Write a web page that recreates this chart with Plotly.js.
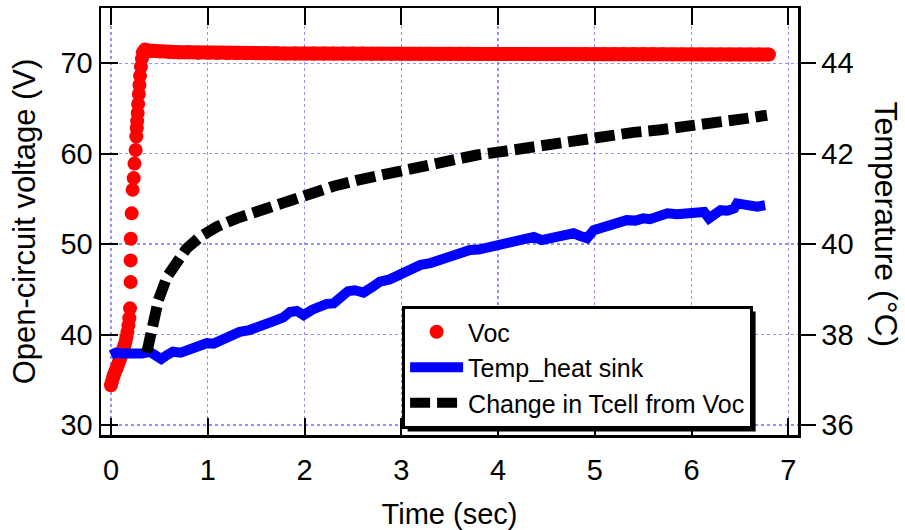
<!DOCTYPE html>
<html>
<head>
<meta charset="utf-8">
<script src="https://cdn.plot.ly/plotly-3.0.1.min.js"></script>
<style>html,body{margin:0;padding:0;background:#fff;}#chart{width:905px;height:530px;}</style>
</head>
<body>
<div id="chart"></div>
<script>
// Voc (left axis, V)
const vocTime = [0,0.01,0.02,0.03,0.04,0.05,0.06,0.07,0.08,0.09,0.10,0.11,0.12,0.13,0.14,0.15,0.16,0.17,0.18,0.19,0.197,
  0.203,0.203,0.205,0.214,0.224,0.235,0.243,0.255,0.262,0.267,0.271,0.276,0.281,0.288,0.294,0.30,0.31,0.32,0.33,0.35,0.37,
  0.4,0.5,0.6,0.7,0.8,0.9,1.0,1.1,1.2,1.3,1.4,1.5,1.6,1.7,1.8,1.9,2.0,2.1,2.2,2.3,2.4,2.5,2.6,2.7,2.8,2.9,3.0,
  3.1,3.2,3.3,3.4,3.5,3.6,3.7,3.8,3.9,4.0,4.1,4.2,4.3,4.4,4.5,4.6,4.7,4.8,4.9,5.0,5.1,5.2,5.3,5.4,5.5,5.6,5.7,5.8,5.9,6.0,
  6.1,6.2,6.3,6.4,6.5,6.6,6.7,6.8];
const vocValue = [34.4,34.8,35.2,35.5,35.8,36.1,36.3,36.6,36.9,37.2,37.5,37.9,38.2,38.5,38.8,39.2,39.7,40.3,41.0,41.8,42.9,
  45.8,48.2,50.6,53.4,56.0,57.3,58.9,60.4,61.9,62.8,63.6,64.5,65.5,66.6,67.6,68.6,69.6,70.5,71.2,71.5,71.4,
  71.35,71.3,71.25,71.2,71.2,71.15,71.15,71.12,71.12,71.1,71.1,71.1,71.1,71.1,71.08,71.08,71.08,71.07,71.07,71.07,71.06,71.06,71.06,71.05,71.05,71.05,71.05,
  71.04,71.04,71.04,71.03,71.03,71.03,71.03,71.02,71.02,71.02,71.01,71.01,71.01,71.0,71.0,71.0,71.0,71.0,70.99,70.99,70.99,70.99,70.98,70.98,70.98,70.98,70.98,70.97,70.97,70.97,
  70.97,70.97,70.97,70.96,70.96,70.96,70.96,70.96];

// Temp_heat sink (right axis, degC)
const sinkTime = [0.00,0.05,0.12,0.23,0.32,0.40,0.46,0.52,0.58,0.64,0.72,0.82,0.90,0.99,1.06,1.13,1.22,1.33,1.43,1.54,1.62,1.71,1.78,1.85,1.92,1.99,
  2.08,2.16,2.23,2.30,2.38,2.45,2.52,2.61,2.70,2.78,2.88,2.99,3.10,3.20,3.30,3.40,3.50,3.58,3.65,3.71,3.80,3.92,4.02,4.13,4.25,4.37,4.45,4.56,4.64,
  4.70,4.78,4.85,4.92,4.99,5.08,5.16,5.25,5.33,5.42,5.50,5.57,5.64,5.75,5.85,5.95,6.05,6.13,6.18,6.24,6.30,6.37,6.44,6.47,6.54,6.61,6.68,6.76];
const sinkTemp = [37.55,37.60,37.58,37.55,37.58,37.62,37.55,37.46,37.55,37.62,37.60,37.69,37.72,37.81,37.80,37.88,37.96,38.06,38.10,38.21,38.24,38.32,38.38,38.50,38.52,38.43,
  38.55,38.65,38.68,38.69,38.85,38.96,38.98,38.93,39.05,39.17,39.22,39.35,39.42,39.54,39.58,39.65,39.72,39.79,39.82,39.87,39.88,39.94,39.97,40.02,40.10,40.16,40.09,40.14,40.16,
  40.20,40.24,40.18,40.13,40.31,40.36,40.42,40.47,40.53,40.52,40.57,40.55,40.60,40.68,40.66,40.68,40.68,40.71,40.57,40.68,40.75,40.74,40.79,40.90,40.86,40.82,40.83,40.86];

// Change in Tcell from Voc (right axis, degC)
const cellTime = [0.37,0.40,0.43,0.49,0.58,0.68,0.78,0.92,1.09,1.30,1.54,1.78,2.02,2.30,2.54,2.78,3.06,3.30,3.54,3.78,4.02,4.26,4.54,4.85,5.13,5.40,5.68,5.95,6.30,6.57,6.78];
const cellTemp = [37.60,37.95,38.35,38.76,39.28,39.65,39.90,40.16,40.38,40.57,40.75,40.93,41.10,41.28,41.41,41.53,41.66,41.78,41.88,41.97,42.04,42.12,42.22,42.30,42.39,42.47,42.53,42.59,42.70,42.78,42.85];

const FONT = 'Liberation Sans, Arial, Helvetica, sans-serif';
const GRID = 'rgba(110,110,255,0.75)';

// flat part of the Voc record, drawn also as a joined band
const flatStart = vocTime.indexOf(0.37);

const traces = [
  {x: vocTime.slice(flatStart), y: vocValue.slice(flatStart), type: 'scatter', mode: 'lines', yaxis: 'y',
   showlegend: false, hoverinfo: 'skip', line: {color: '#ff0000', width: 14}},
  {x: vocTime, y: vocValue, name: 'Voc', type: 'scatter', mode: 'markers', yaxis: 'y',
   marker: {color: '#ff0000', size: 14}},
  {x: sinkTime, y: sinkTemp, name: 'Temp_heat sink', type: 'scatter', mode: 'lines', yaxis: 'y2',
   line: {color: '#0000ff', width: 10}},
  {x: cellTime, y: cellTemp, name: 'Change in Tcell from Voc', type: 'scatter', mode: 'lines', yaxis: 'y2',
   line: {color: '#000000', width: 11, dash: '20px,7px'}}
];

const M = {l: 101, r: 107, t: 8, b: 95};
const layout = {
  width: 905, height: 530,
  margin: M,
  paper_bgcolor: '#fff', plot_bgcolor: '#fff',
  font: {family: FONT, color: '#000', size: 29},
  showlegend: true,
  legend: {x: 0.432, y: 0.302, xanchor: 'left', yanchor: 'top', bgcolor: '#fff', bordercolor: '#000', borderwidth: 3,
           itemwidth: 53, entrywidth: 360, entrywidthmode: 'pixels',
           font: {family: FONT, size: 25, color: '#000'}, tracegroupgap: 0},
  xaxis: {range: [-0.103, 7.10], tick0: 0, dtick: 1, ticks: 'inside', ticklen: 17, tickwidth: 2, tickcolor: '#000',
          showline: true, linewidth: 2.5, linecolor: '#000', mirror: 'ticks', zeroline: false,
          showgrid: true, gridcolor: GRID, griddash: 'dot', gridwidth: 1.3, ticklabelstandoff: 8,
          tickfont: {size: 29}, title: {text: 'Time (sec)', font: {size: 29}, standoff: 20}},
  yaxis: {range: [28.9, 76.1], tick0: 30, dtick: 10, ticks: 'inside', ticklen: 17, tickwidth: 2, tickcolor: '#000',
          showline: true, linewidth: 2.5, linecolor: '#000', zeroline: false,
          showgrid: true, gridcolor: GRID, griddash: 'dot', gridwidth: 1.3,
          tickfont: {size: 29}, title: {text: 'Open-circuit voltage (V)', font: {size: 31}, standoff: 16}},
  yaxis2: {range: [35.78, 45.22], tick0: 36, dtick: 2, overlaying: 'y', side: 'right', ticks: 'outside', ticklen: 15,
           tickwidth: 2, tickcolor: '#000', showline: true, linewidth: 2.5, linecolor: '#000', zeroline: false,
           showgrid: false, tickfont: {size: 29}},
  annotations: [{text: 'Temperature (°C)', xref: 'paper', yref: 'paper', x: 1, y: 0.5, xanchor: 'left', yanchor: 'middle',
                 xshift: 68, yshift: -3, textangle: 90, showarrow: false, font: {family: FONT, size: 32, color: '#000'}}]
};

Plotly.newPlot('chart', traces, layout, {displayModeBar: false, staticPlot: true}).then(function (gd) {
  // drop shadow behind the legend box (offset to the right and below)
  const bg = gd.querySelector('.legend .bg');
  if (!bg) return;
  const r = bg.getBoundingClientRect();
  const c = gd.getBoundingClientRect();
  const W = 905 - M.l - M.r, H = 530 - M.t - M.b;
  const off = 4;
  const px = v => (v - c.left - M.l) / W;
  const py = v => 1 - (v - c.top - M.t) / H;
  return Plotly.relayout(gd, {shapes: [{type: 'rect', xref: 'paper', yref: 'paper', layer: 'above',
    x0: px(r.left + off), x1: px(r.right + off), y0: py(r.top + off), y1: py(r.bottom + off),
    fillcolor: '#000', line: {width: 0}}]});
});
</script>
</body>
</html>
